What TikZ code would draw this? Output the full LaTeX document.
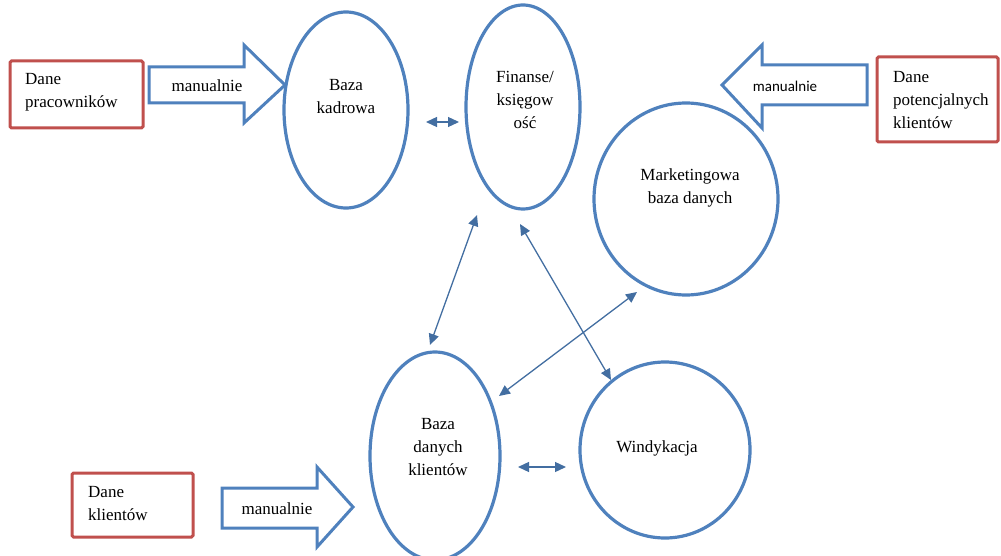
\documentclass[tikz,border=0pt]{standalone}
\usepackage{fontspec}
\setmainfont{Liberation Serif}
\newfontfamily\carlito{Carlito}
\usetikzlibrary{shapes.geometric,arrows.meta}
\definecolor{oblue}{RGB}{79,129,189}
\definecolor{ored}{RGB}{192,80,77}
\tikzset{
  db/.style={ellipse,draw=oblue,line width=3.2pt,inner sep=0pt},
  srcbox/.style={draw=ored,line width=3pt,rounded corners=1.5pt},
  srctext/.style={align=left,anchor=west,inner sep=0pt,font=\fontsize{17}{23}\selectfont},
  blockarrow/.style={draw=oblue,line width=3pt,line join=miter,fill=white},
  lbl/.style={inner sep=0pt,align=center,font=\fontsize{17}{23}\selectfont},
  link/.style={draw=oblue!85!black,line width=1.3pt,{Triangle[length=11pt,width=10pt]}-{Triangle[length=11pt,width=10pt]}}
}
\begin{document}
\begin{tikzpicture}[x=1pt,y=-1pt]
\useasboundingbox (0,0) rectangle (1001,556);
% databases
\node[db,minimum width=124pt,minimum height=196pt] (kadr) at (346,110) {};
\node[lbl] (kadrtxt) at (346,97) {Baza\\kadrowa};
\node[db,minimum width=114pt,minimum height=204pt] (fin) at (523,107) {};
\node[lbl] (fintxt) at (525,100) {Finanse/\\księgow\\ość};
\node[db,minimum width=184pt,minimum height=192pt] (mkt) at (686,199) {};
\node[lbl] (mkttxt) at (690,188) {Marketingowa\\baza danych};
\node[db,minimum width=130pt,minimum height=208pt] (bdk) at (435,456) {};
\node[lbl] (bdktxt) at (438,447) {Baza\\danych\\klientów};
\node[db,minimum width=170pt,minimum height=176pt] (win) at (665,450) {};
\node[lbl] (wintxt) at (657,448) {Windykacja};
% source boxes
\draw[srcbox] (10,61) rectangle (143,128);
\node[srctext] (prac) at (25,92) {Dane\\pracowników};
\draw[srcbox] (877,57) rectangle (998,142);
\node[srctext] (pot) at (893,100) {Dane\\potencjalnych\\klientów};
\draw[srcbox] (72,473) rectangle (193,537);
\node[srctext] (kl) at (88,504) {Dane\\klientów};
% block arrows
\draw[blockarrow] (149,67) -- (244,67) -- (244,45) -- (285,85) -- (244,123) -- (244,103) -- (149,103) -- cycle;
\node[lbl] (m1) at (207,86) {manualnie};
\draw[blockarrow] (867,65) -- (762,65) -- (762,45) -- (722,85) -- (762,128) -- (762,105) -- (867,105) -- cycle;
\node[lbl,font=\carlito\fontsize{15}{18}\selectfont] (m2) at (785,86) {manualnie};
\draw[blockarrow] (222,488) -- (317,488) -- (317,467) -- (353,507) -- (317,547) -- (317,528) -- (222,528) -- cycle;
\node[lbl] (m3) at (277,509) {manualnie};
% links
\coordinate (a1) at (426,122); \coordinate (a2) at (459,122);
\coordinate (b1) at (518,467); \coordinate (b2) at (566,467);
\coordinate (c1) at (477,215); \coordinate (c2) at (430,345);
\coordinate (d1) at (520,224); \coordinate (d2) at (611,380);
\coordinate (e1) at (637,292); \coordinate (e2) at (499,396);
\draw[link] (a1) -- (a2);
\draw[link] (b1) -- (b2);
\draw[link] (c1) -- (c2);
\draw[link] (d1) -- (d2);
\draw[link] (e1) -- (e2);
\end{tikzpicture}
\end{document}
